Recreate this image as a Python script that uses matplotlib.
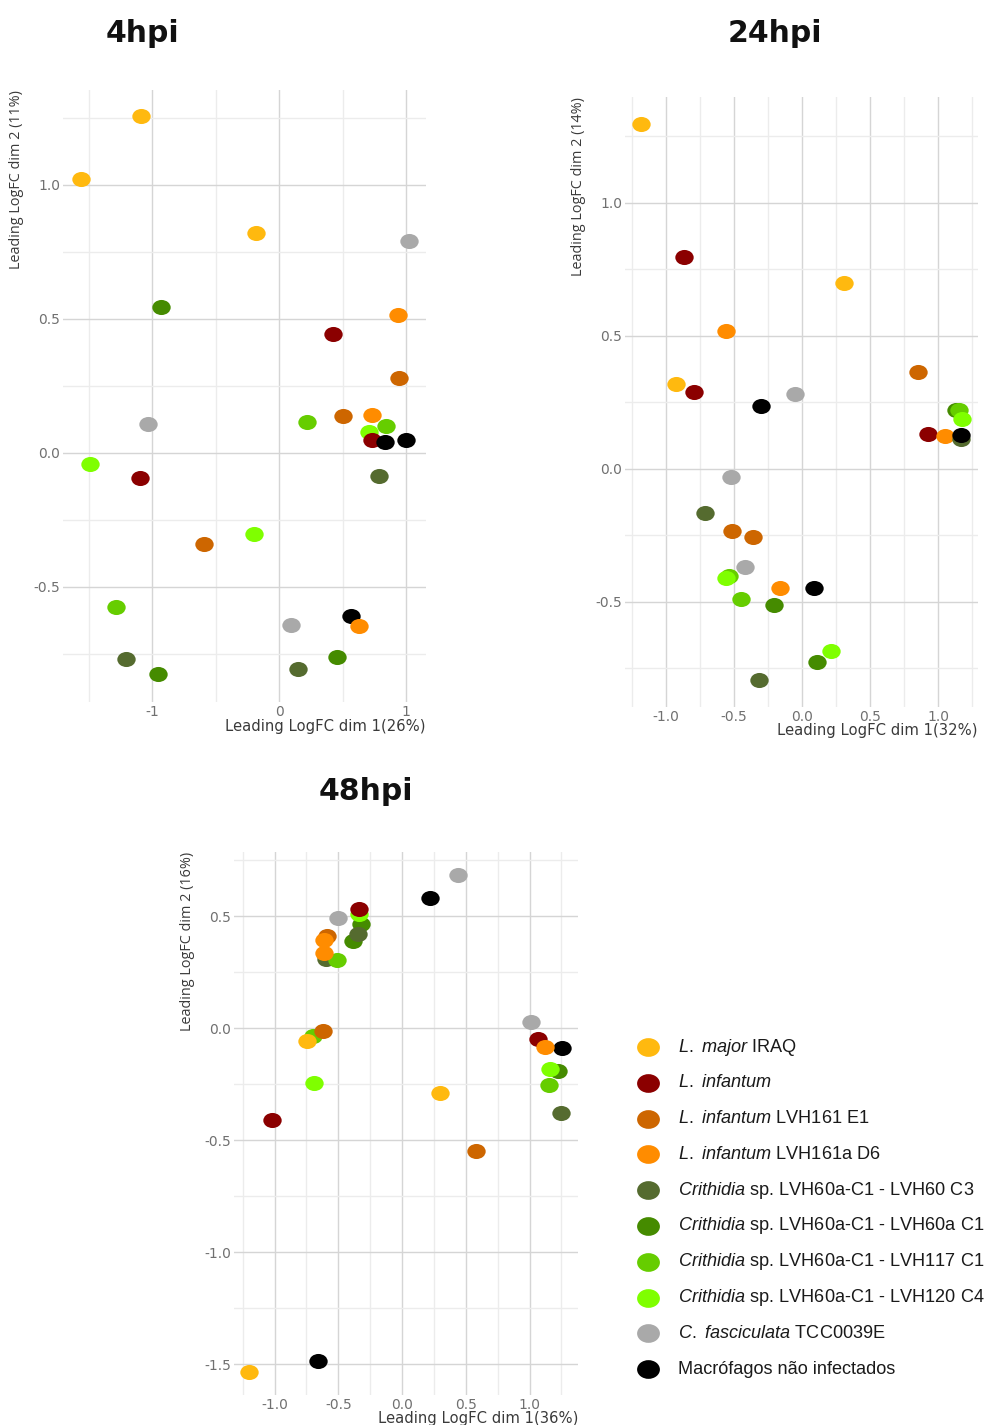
import numpy as np
import matplotlib
matplotlib.use("Agg")
import matplotlib.pyplot as plt
from matplotlib.path import Path
from matplotlib.markers import MarkerStyle
from matplotlib.ticker import MultipleLocator

plt.rcParams["font.family"] = ["DejaVu Sans"]
plt.rcParams["mathtext.fontset"] = "custom"
plt.rcParams["mathtext.rm"] = "Liberation Sans"
plt.rcParams["mathtext.it"] = "Liberation Sans:italic"

# ---- groups -------------------------------------------------------------
group_labels = [
    r"$\it{L.\ major}$ IRAQ",
    r"$\it{L.\ infantum}$",
    r"$\it{L.\ infantum}$ LVH161 E1",
    r"$\it{L.\ infantum}$ LVH161a D6",
    r"$\it{Crithidia}$ sp. LVH60a-C1 - LVH60 C3",
    r"$\it{Crithidia}$ sp. LVH60a-C1 - LVH60a C1",
    r"$\it{Crithidia}$ sp. LVH60a-C1 - LVH117 C1",
    r"$\it{Crithidia}$ sp. LVH60a-C1 - LVH120 C4",
    r"$\it{C.\ fasciculata}$ TCC0039E",
    "Macrófagos não infectados",
]
group_colors = ["#FFB90F", "#8B0000", "#CD6600", "#FF8C00", "#556B2F",
                "#458B00", "#66CD00", "#7FFF00", "#A9A9A9", "#000000"]

# ---- 4 hpi --------------------------------------------------------------
x_4h = [-1.089, -1.559, -0.180, 1.021, -1.034, -0.932, -0.956, 0.457, 0.940,
        0.426, -1.097, 0.945, 0.507, -0.593, 0.222, 0.843, -1.285, 0.708,
        -1.486, -0.198, 0.734, 0.728, 0.833, 0.997, 0.569, 0.632, 0.786,
        -1.206, 0.151, 0.097]
y_4h = [1.258, 1.022, 0.819, 0.792, 0.109, 0.545, -0.825, -0.762, 0.513,
        0.443, -0.093, 0.280, 0.137, -0.339, 0.117, 0.102, -0.575, 0.080,
        -0.041, -0.302, 0.143, 0.049, 0.041, 0.047, -0.608, -0.647, -0.087,
        -0.770, -0.805, -0.641]
g_4h = [0, 0, 0, 8, 8, 5, 5, 5, 3,
        1, 1, 2, 2, 2, 6, 6, 6, 7,
        7, 7, 3, 1, 9, 9, 9, 3, 4,
        4, 4, 8]

# ---- 24 hpi -------------------------------------------------------------
x_24h = [-1.184, 0.311, -0.926, -0.865, -0.794, 0.924, -0.561, 1.051, -0.164,
         0.855, -0.512, -0.360, -0.049, -0.520, -0.419, 1.169, -0.716, -0.319,
         1.132, -0.203, 0.110, 1.157, -0.534, -0.449, 1.174, -0.559, 0.213,
         -0.299, 1.169, 0.086]
y_24h = [1.295, 0.698, 0.321, 0.795, 0.289, 0.132, 0.517, 0.124, -0.448,
         0.364, -0.234, -0.257, 0.281, -0.032, -0.369, 0.112, -0.167, -0.795,
         0.223, -0.510, -0.724, 0.223, -0.401, -0.488, 0.188, -0.409, -0.685,
         0.238, 0.128, -0.449]
g_24h = [0, 0, 0, 1, 1, 1, 3, 3, 3,
         2, 2, 2, 8, 8, 8, 4, 4, 4,
         5, 5, 5, 6, 6, 6, 7, 7, 7,
         9, 9, 9]

# ---- 48 hpi -------------------------------------------------------------
x_48h = [0.298, -1.202, 0.440, -0.505, 1.010, 0.217, 1.257, -0.657,
         -0.319, -0.387, 1.225, -0.343, -0.599, 1.249, -0.340, 1.162, -0.691,
         -0.508, -0.699, 1.152, -0.335, 1.063, -1.018, -0.586, -0.623, 0.581,
         -0.613, -0.610, 1.118, -0.749]
y_48h = [-0.288, -1.535, 0.682, 0.492, 0.027, 0.582, -0.087, -1.487,
         0.465, 0.388, -0.193, 0.420, 0.308, -0.380, 0.507, -0.182, -0.245,
         0.305, -0.035, -0.255, 0.532, -0.048, -0.412, 0.410, -0.012, -0.550,
         0.395, 0.333, -0.085, -0.057]
g_48h = [0, 0, 8, 8, 8, 9, 9, 9,
         5, 5, 5, 4, 4, 4, 7, 7, 7,
         6, 6, 6, 1, 1, 1, 2, 2, 2,
         3, 3, 3, 0]

# ---- layout helpers (pixel -> figure fraction) --------------------------
W, H = 987, 1425
fig = plt.figure(figsize=(W / 100, H / 100), dpi=100)


def fx(px):
    return px / W


def fy(py):
    return 1 - py / H


ellipse = Path(Path.unit_circle().vertices * np.array([1.0, 0.82]),
               Path.unit_circle().codes)
dot = MarkerStyle(ellipse)
DOT_SIZE = 175

TICK_COLOR = "#707070"
LABEL_COLOR = "#3a3a3a"


def mds_panel(box, xlim, ylim, xmajor, ymajor, xs, ys, gs, xfmt,
              xlabel, ylabel, title, title_xy):
    left, top, right, bottom = box
    ax = fig.add_axes([fx(left), fy(bottom), fx(right) - fx(left),
                       fy(top) - fy(bottom)])
    ax.set_xlim(*xlim)
    ax.set_ylim(*ylim)
    ax.xaxis.set_major_locator(MultipleLocator(xmajor))
    ax.xaxis.set_minor_locator(MultipleLocator(xmajor / 2))
    ax.yaxis.set_major_locator(MultipleLocator(ymajor))
    ax.yaxis.set_minor_locator(MultipleLocator(ymajor / 2))
    ax.xaxis.set_major_formatter(xfmt)
    ax.yaxis.set_major_formatter(fmt_1)
    ax.grid(True, which="major", color="#d5d5d5", linewidth=1.0)
    ax.grid(True, which="minor", color="#ececec", linewidth=1.0)
    ax.set_axisbelow(True)
    for s in ax.spines.values():
        s.set_visible(False)
    ax.tick_params(which="both", length=0, labelsize=10,
                   labelcolor=TICK_COLOR, pad=2)
    for xv, yv, gv in zip(xs, ys, gs):
        ax.scatter([xv], [yv], s=DOT_SIZE, marker=dot,
                   color=group_colors[gv], linewidths=0)
    # axis titles
    fig.text(fx(right), fy(bottom + 24), xlabel, ha="right", va="center",
             fontsize=10.6, color=LABEL_COLOR)
    fig.text(fx(left - 46), fy(top), ylabel, rotation=90, ha="center",
             va="top", fontsize=10.4, color=LABEL_COLOR,
             family="Open Sans")
    fig.text(fx(title_xy[0]), fy(title_xy[1]), title, ha="center",
             va="center", fontsize=21.5, fontweight="bold", color="#111111")
    return ax


def fmt_int(v, p):
    return "0" if abs(v) < 1e-9 else f"{v:.0f}"


def fmt_1(v, p):
    return "0.0" if abs(v) < 1e-9 else f"{v:.1f}"


mds_panel((63, 90, 426, 702), (-1.701, 1.157), (-0.929, 1.354), 1.0, 0.5,
          x_4h, y_4h, g_4h, fmt_int,
          "Leading LogFC dim 1(26%)", "Leading LogFC dim 2 (11%)",
          "4hpi", (142, 33))

mds_panel((625, 97, 978, 707), (-1.301, 1.294), (-0.895, 1.398), 0.5, 0.5,
          x_24h, y_24h, g_24h, fmt_1,
          "Leading LogFC dim 1(32%)", "Leading LogFC dim 2 (14%)",
          "24hpi", (775, 33))

mds_panel((234, 852, 578, 1395), (-1.318, 1.380), (-1.638, 0.786), 0.5, 0.5,
          x_48h, y_48h, g_48h, fmt_1,
          "Leading LogFC dim 1(36%)", "Leading LogFC dim 2 (16%)",
          "48hpi", (366, 792))

# ---- legend -------------------------------------------------------------
leg = fig.add_axes([0, 0, 1, 1], facecolor="none")
leg.set_xlim(0, W)
leg.set_ylim(H, 0)
leg.axis("off")
row_y0, row_step = 1047, 35.8
for i, (lab, col) in enumerate(zip(group_labels, group_colors)):
    yy = row_y0 + i * row_step
    leg.scatter([648], [yy], s=270, marker=dot, color=col, linewidths=0)
    leg.text(678, yy, lab, ha="left", va="center", fontsize=13.1,
             family="Liberation Sans", color="#1a1a1a")

fig.savefig("out.png", dpi=100)
